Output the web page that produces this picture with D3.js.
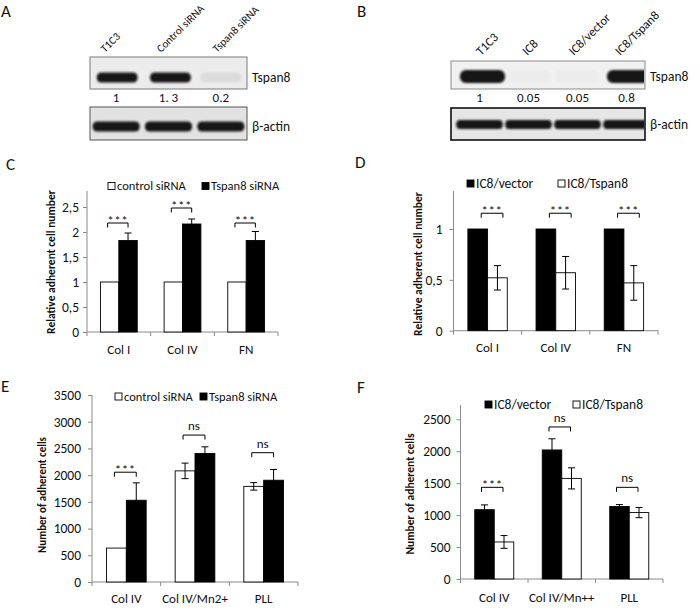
<!DOCTYPE html>
<html><head><meta charset="utf-8">
<script src="https://cdn.jsdelivr.net/npm/d3@7"></script>
<style>
body{margin:0;background:#fff}
svg{display:block}
text{font-family:Carlito,Lato,"Liberation Sans",sans-serif;fill:#111}
</style>
</head><body>
<svg id="fig" width="700" height="608"></svg>
<script>
// ================= DATA =================
// Panel A western blot
const blotALanes = ["T1C3", "Control siRNA", "Tspan8 siRNA"];
const blotATspan8 = [1, 1.3, 0.2];
const blotAQuantLabels = ["1", "1. 3", "0.2"];
const blotAActin = [1, 1, 1];
// Panel B western blot
const blotBLanes = ["T1C3", "IC8", "IC8/vector", "IC8/Tspan8"];
const blotBTspan8 = [1, 0.05, 0.05, 0.8];
const blotBQuantLabels = ["1", "0.05", "0.05", "0.8"];
const blotBActin = [1, 1, 1, 1];
const blotRowLabels = ["Tspan8", "β-actin"];

// Panel C
const cCategories = ["Col I", "Col IV", "FN"];
const cSeriesNames = ["control siRNA", "Tspan8 siRNA"];
const cControl = [1, 1, 1];
const cControlErr = [0, 0, 0];
const cTspan8 = [1.83, 2.16, 1.83];
const cTspan8Err = [0.15, 0.10, 0.18];
const cSig = ["***", "***", "***"];
const cSigLevel = [2.18, 2.48, 2.18];
const cTicks = [0, 0.5, 1, 1.5, 2, 2.5];
const cTickLabels = ["0", "0,5", "1", "1,5", "2", "2,5"];

// Panel D
const dCategories = ["Col I", "Col IV", "FN"];
const dSeriesNames = ["IC8/vector", "IC8/Tspan8"];
const dVector = [1, 1, 1];
const dVectorErr = [0, 0, 0];
const dTspan8 = [0.52, 0.57, 0.47];
const dTspan8Err = [0.12, 0.16, 0.17];
const dSig = ["***", "***", "***"];
const dSigLevel = [1.155, 1.155, 1.155];
const dTicks = [0, 0.5, 1];
const dTickLabels = ["0", "0,5", "1"];

// Panel E
const eCategories = ["Col IV", "Col IV/Mn2+", "PLL"];
const eSeriesNames = ["control siRNA", "Tspan8 siRNA"];
const eControl = [635, 2080, 1790];
const eControlErr = [0, 145, 70];
const eTspan8 = [1530, 2405, 1905];
const eTspan8Err = [325, 125, 200];
const eSig = ["***", "ns", "ns"];
const eSigLevel = [2055, 2750, 2420];
const eTicks = [0, 500, 1000, 1500, 2000, 2500, 3000, 3500];
const eTickLabels = ["0", "500", "1000", "1500", "2000", "2500", "3000", "3500"];

// Panel F
const fCategories = ["Col IV", "Col IV/Mn++", "PLL"];
const fSeriesNames = ["IC8/vector", "IC8/Tspan8"];
const fVector = [1085, 2020, 1135];
const fVectorErr = [75, 175, 30];
const fTspan8 = [580, 1575, 1040];
const fTspan8Err = [100, 165, 80];
const fSig = ["***", "ns", "ns"];
const fSigLevel = [1435, 2380, 1435];
const fTicks = [0, 500, 1000, 1500, 2000, 2500];
const fTickLabels = ["0", "500", "1000", "1500", "2000", "2500"];

// ================= DRAWING =================
const svg = d3.select("#fig");
const defs = svg.append("defs");
defs.append("filter").attr("id", "blur").attr("x", "-20%").attr("y", "-50%").attr("width", "140%").attr("height", "200%")
  .append("feGaussianBlur").attr("stdDeviation", 1.3);

function panelLetter(t, x, y) {
  svg.append("text").attr("x", x).attr("y", y).attr("font-size", 17).text(t);
}
panelLetter("A", 1, 17);
panelLetter("B", 357, 17);
panelLetter("C", 6, 170);
panelLetter("D", 355, 168);
panelLetter("E", 1, 392);
panelLetter("F", 357, 393);

function blot(cfg) {
  const g = svg.append("g");
  const lane = d3.scaleBand().domain(d3.range(cfg.lanes.length)).range(cfg.laneRange);
  const labelPos = d3.scalePoint().domain(d3.range(cfg.lanes.length)).range(cfg.labelRange);
  g.selectAll("text.lane").data(cfg.lanes).join("text")
    .attr("transform", (d, i) => `translate(${labelPos(i)},${cfg.labelY}) rotate(-45)`)
    .attr("font-size", cfg.labelSize).text(d => d);
  cfg.rows.forEach(r => {
    g.append("rect").attr("x", cfg.box[0]).attr("width", cfg.box[1] - cfg.box[0])
      .attr("y", r.y0).attr("height", r.y1 - r.y0)
      .attr("fill", r.bg).attr("stroke", r.stroke).attr("stroke-width", r.sw);
    const clipId = "clip" + Math.random().toString(36).slice(2);
    defs.append("clipPath").attr("id", clipId).append("rect")
      .attr("x", cfg.box[0] + 1).attr("width", cfg.box[1] - cfg.box[0] - 2)
      .attr("y", r.y0 + 1).attr("height", r.y1 - r.y0 - 2);
    const bg = g.append("g").attr("clip-path", `url(#${clipId})`);
    bg.selectAll("rect.band").data(r.values).join("rect")
      .attr("x", (d, i) => lane(i) + lane.bandwidth() * (1 - r.bw) / 2 + (r.dx ? r.dx[i] : 0))
      .attr("width", lane.bandwidth() * r.bw)
      .attr("y", r.cy - r.h / 2).attr("height", r.h)
      .attr("rx", r.h / 2.2)
      .attr("fill", "#141414")
      .attr("opacity", d => d >= 0.5 ? 1 : d * 0.35)
      .attr("filter", "url(#blur)");
    g.append("text").attr("x", cfg.box[1] + 5).attr("y", r.cy + 4.5).attr("font-size", 13.5).text(r.label);
  });
  g.selectAll("text.q").data(cfg.quant).join("text")
    .attr("x", (d, i) => lane(i) + lane.bandwidth() / 2).attr("y", cfg.quantY)
    .attr("text-anchor", "middle").attr("font-size", 13).text(d => d);
}

blot({
  lanes: blotALanes, laneRange: [90, 247], labelRange: [105, 217], labelY: 53, labelSize: 11,
  box: [90, 247], quant: blotAQuantLabels, quantY: 101.5,
  rows: [
    { y0: 57, y1: 89, bg: "#ececec", stroke: "#7a7a7a", sw: 1, values: blotATspan8, cy: 77.5, h: 10, bw: 0.78, label: blotRowLabels[0], dx: [1, 2, 0] },
    { y0: 107, y1: 140, bg: "#e2e2e2", stroke: "#555", sw: 1, values: blotAActin, cy: 126.5, h: 10, bw: 0.9, label: blotRowLabels[1] }
  ]
});
blot({
  lanes: blotBLanes, laneRange: [455, 651], labelRange: [481, 620], labelY: 56, labelSize: 12.5,
  box: [451, 645], quant: blotBQuantLabels, quantY: 101.5,
  rows: [
    { y0: 61, y1: 89, bg: "#f1f1f1", stroke: "#8a8a8a", sw: 1, values: blotBTspan8, cy: 76.5, h: 13, bw: 0.92, label: blotRowLabels[0], dx: [3, 0, 0, 3] },
    { y0: 108, y1: 140, bg: "#e6e6e6", stroke: "#111", sw: 1.6, values: blotBActin, cy: 124.5, h: 9, bw: 0.95, label: blotRowLabels[1] }
  ]
});

function barChart(cfg) {
  const g = svg.append("g");
  const x = d3.scaleBand().domain(cfg.categories).range([cfg.x0, cfg.x1]);
  const xs = d3.scaleBand().domain([0, 1]).range([0, x.bandwidth()]).paddingInner(0).paddingOuter(0.73);
  const y = d3.scaleLinear().domain([0, cfg.ticks[cfg.ticks.length - 1]]).range([cfg.yZero, cfg.yMaxPx]);
  const axisColor = "#8a8a8a";

  const ya = g.append("g").attr("transform", `translate(${cfg.x0},0)`)
    .call(d3.axisLeft(y).tickValues(cfg.ticks).tickFormat((d, i) => cfg.tickLabels[i]).tickSize(4).tickPadding(cfg.tickPad).tickSizeOuter(0));
  ya.select(".domain").remove();
  ya.selectAll("line").attr("stroke", axisColor);
  ya.selectAll("text").attr("font-size", 13.5).attr("font-family", "Carlito,Lato,sans-serif").attr("fill", "#111");
  g.append("line").attr("x1", cfg.x0).attr("x2", cfg.x0).attr("y1", cfg.yZero).attr("y2", cfg.yTop).attr("stroke", axisColor);

  g.append("line").attr("x1", cfg.x0).attr("x2", cfg.x1).attr("y1", cfg.yZero).attr("y2", cfg.yZero).attr("stroke", axisColor);
  const bounds = cfg.categories.map(c => x(c)).concat([cfg.x1]);
  g.selectAll("line.xt").data(bounds).join("line")
    .attr("x1", d => d).attr("x2", d => d).attr("y1", cfg.yZero).attr("y2", cfg.yZero + 4).attr("stroke", axisColor);
  g.selectAll("text.cat").data(cfg.categories).join("text")
    .attr("x", d => x(d) + x.bandwidth() / 2).attr("y", cfg.catY)
    .attr("text-anchor", "middle").attr("font-size", 13).text(d => d);

  cfg.series.forEach((s, si) => {
    g.selectAll(null).data(s.values).join("rect")
      .attr("x", (d, i) => x(cfg.categories[i]) + xs(si))
      .attr("width", xs.bandwidth())
      .attr("y", d => y(d)).attr("height", d => cfg.yZero - y(d))
      .attr("fill", s.fill).attr("stroke", "#000").attr("stroke-width", 0.9);
  });
  cfg.series.forEach((s, si) => {
    s.values.forEach((v, i) => {
      const e = s.err[i];
      if (!e) return;
      const cx = x(cfg.categories[i]) + xs(si) + xs.bandwidth() / 2;
      const eg = g.append("g").attr("stroke", "#000").attr("stroke-width", 1);
      eg.append("line").attr("x1", cx).attr("x2", cx).attr("y1", y(v - e)).attr("y2", y(v + e));
      eg.append("line").attr("x1", cx - 3.5).attr("x2", cx + 3.5).attr("y1", y(v + e)).attr("y2", y(v + e));
      eg.append("line").attr("x1", cx - 3.5).attr("x2", cx + 3.5).attr("y1", y(v - e)).attr("y2", y(v - e));
    });
  });
  cfg.sig.forEach((lab, i) => {
    const c = x(cfg.categories[i]);
    const xa = c + xs(0) + xs.bandwidth() / 2 + cfg.brShift - 2;
    const xb = c + xs(1) + xs.bandwidth() / 2 + cfg.brShift;
    const yy = y(cfg.sigLevel[i]);
    g.append("path").attr("d", `M${xa},${yy + 4.5}V${yy}H${xb}V${yy + 4.5}`)
      .attr("fill", "none").attr("stroke", "#000").attr("stroke-width", 1);
    g.append("text").attr("x", (xa + xb) / 2).attr("y", lab === "ns" ? yy - 5 : yy + 1.5)
      .attr("text-anchor", "middle").attr("font-size", 13)
      .attr("letter-spacing", lab === "ns" ? 0 : 0.5).text(lab);
  });
  cfg.legend.forEach((L) => {
    const s = cfg.series[L.si];
    g.append("rect").attr("x", L.x).attr("y", L.y - 7.5).attr("width", 7).attr("height", 7)
      .attr("fill", s.fill).attr("stroke", "#000").attr("stroke-width", 0.9);
    g.append("text").attr("x", L.x + 9).attr("y", L.y).attr("font-size", cfg.legendSize).text(s.name);
  });
  g.append("text").attr("transform", `translate(${cfg.ylab[0]},${cfg.ylab[1]}) rotate(-90)`)
    .attr("text-anchor", "middle").attr("font-weight", "bold").attr("font-size", cfg.ylabSize).text(cfg.ylabText);
}

barChart({
  categories: cCategories, x0: 87, x1: 278, yZero: 332, yMaxPx: 207, yTop: 191, ticks: cTicks, tickLabels: cTickLabels, tickPad: 4,
  catY: 353.5, brShift: 0, legendSize: 12.5,
  series: [{ name: cSeriesNames[0], values: cControl, err: cControlErr, fill: "#fff" },
           { name: cSeriesNames[1], values: cTspan8, err: cTspan8Err, fill: "#000" }],
  sig: cSig, sigLevel: cSigLevel,
  legend: [{ si: 0, x: 108, y: 190 }, { si: 1, x: 202, y: 190 }],
  ylab: [55, 262], ylabSize: 11.5, ylabText: "Relative adherent cell number"
});
barChart({
  categories: dCategories, x0: 453.5, x1: 658, yZero: 330.7, yMaxPx: 229, yTop: 191, ticks: dTicks, tickLabels: dTickLabels, tickPad: 7,
  catY: 351.5, brShift: 5.5, legendSize: 13.5,
  series: [{ name: dSeriesNames[0], values: dVector, err: dVectorErr, fill: "#000" },
           { name: dSeriesNames[1], values: dTspan8, err: dTspan8Err, fill: "#fff" }],
  sig: dSig, sigLevel: dSigLevel,
  legend: [{ si: 0, x: 467, y: 187.5 }, { si: 1, x: 558, y: 187.5 }],
  ylab: [422, 264], ylabSize: 11.5, ylabText: "Relative adherent cell number"
});
barChart({
  categories: eCategories, x0: 92, x1: 298, yZero: 582, yMaxPx: 395, yTop: 395, ticks: eTicks, tickLabels: eTickLabels, tickPad: 7,
  catY: 602.5, brShift: 0, legendSize: 12.5,
  series: [{ name: eSeriesNames[0], values: eControl, err: eControlErr, fill: "#fff" },
           { name: eSeriesNames[1], values: eTspan8, err: eTspan8Err, fill: "#000" }],
  sig: eSig, sigLevel: eSigLevel,
  legend: [{ si: 0, x: 115, y: 400.5 }, { si: 1, x: 200, y: 400.5 }],
  ylab: [46, 495], ylabSize: 11, ylabText: "Number of adherent cells"
});
barChart({
  categories: fCategories, x0: 460.5, x1: 663, yZero: 579, yMaxPx: 419.3, yTop: 405, ticks: fTicks, tickLabels: fTickLabels, tickPad: 6,
  catY: 601.5, brShift: -1, legendSize: 13.5,
  series: [{ name: fSeriesNames[0], values: fVector, err: fVectorErr, fill: "#000" },
           { name: fSeriesNames[1], values: fTspan8, err: fTspan8Err, fill: "#fff" }],
  sig: fSig, sigLevel: fSigLevel,
  legend: [{ si: 0, x: 485, y: 408.5 }, { si: 1, x: 573, y: 408.5 }],
  ylab: [414, 494], ylabSize: 11.5, ylabText: "Number of adherent cells"
});
</script>
</body></html>
